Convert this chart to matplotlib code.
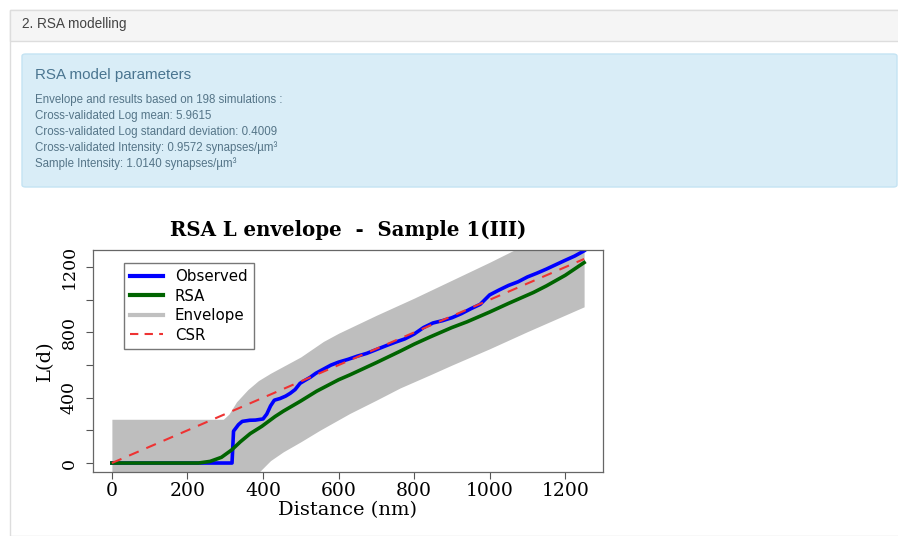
import matplotlib
matplotlib.use("Agg")
from matplotlib import pyplot as plt
from matplotlib.patches import Rectangle, FancyBboxPatch
from matplotlib.lines import Line2D
import numpy as np

# datos
d_obs = [0, 318, 322, 335, 345, 365, 380, 400, 410, 420, 430, 445, 460, 472, 485, 498, 510,
         525, 540, 560, 580, 600, 625, 650, 675, 700, 725, 750, 775, 800, 825, 850, 875, 900,
         925, 950, 975, 1000, 1025, 1050, 1075, 1100, 1125, 1150, 1175, 1200, 1225, 1250]
L_obs = [0, 0, 195, 235, 255, 262, 263, 270, 300, 350, 385, 395, 410, 427, 450, 488, 505,
         525, 550, 575, 600, 618, 635, 655, 672, 695, 718, 740, 760, 790, 830, 858, 872, 890,
         915, 945, 972, 1030, 1060, 1088, 1110, 1140, 1163, 1188, 1215, 1242, 1268, 1300]

d_rsa = [0, 229, 260, 290, 317, 340, 366, 397, 432, 454, 500, 542, 600, 630, 700, 763, 800,
         842, 900, 940, 1000, 1050, 1116, 1150, 1200, 1250]
L_rsa = [0, 0, 10, 35, 80, 130, 180, 225, 285, 318, 380, 440, 510, 540, 615, 685, 728,
         772, 830, 865, 925, 978, 1045, 1085, 1150, 1228]

d_env_sup = [0, 295, 310, 330, 360, 388, 420, 460, 500, 560, 600, 700, 800, 900, 1000, 1100, 1250]
L_env_sup = [268, 268, 300, 375, 450, 505, 550, 600, 650, 745, 795, 905, 1010, 1120, 1230, 1345, 1510]

d_env_inf = [0, 370, 392, 420, 454, 500, 550, 630, 700, 763, 842, 900, 1000, 1100, 1250]
L_env_inf = [-120, -120, -50, 15, 69, 130, 200, 304, 385, 460, 540, 600, 700, 805, 957]

d_csr = [0, 1250]
L_csr = [0, 1250]

W, H = 898, 536
fig = plt.figure(figsize=(W / 100, H / 100), dpi=100)

def fx(px):
    return px / W

def fy(py):
    return 1 - py / H

# pagina web alrededor del grafico
fig.patches.append(Rectangle((fx(10), fy(536)), fx(900) - fx(10), fy(10) - fy(536), zorder=-10,
                             transform=fig.transFigure, facecolor="white", edgecolor="#dddddd", lw=1))
fig.patches.append(Rectangle((fx(10), fy(41)), fx(900) - fx(10), fy(10) - fy(41), zorder=-9,
                             transform=fig.transFigure, facecolor="#f5f5f5", edgecolor="#dddddd", lw=1))
fig.patches.append(FancyBboxPatch((fx(22), fy(187)), fx(897) - fx(22), fy(54) - fy(187),
                                  boxstyle="round,pad=0,rounding_size=0.004", zorder=-8,
                                  transform=fig.transFigure, facecolor="#d9edf7", edgecolor="#c4e3f3", lw=1))

fig.text(fx(22), fy(24), "2. RSA modelling", fontsize=9.8, color="#444444",
         family="Liberation Sans", va="center")
fig.text(fx(35), fy(75), "RSA model parameters", fontsize=10.9, color="#4a7590",
         family="Liberation Sans", va="center")
lineas = ["Envelope and results based on 198 simulations :",
          "Cross-validated Log mean: 5.9615",
          "Cross-validated Log standard deviation: 0.4009",
          "Cross-validated Intensity: 0.9572 synapses/\u00b5m\u00b3",
          "Sample Intensity: 1.0140 synapses/\u00b5m\u00b3"]
for i, t in enumerate(lineas):
    fig.text(fx(35), fy(100 + i * 15.8), t, fontsize=8.3, color="#557588",
             family="Liberation Sans", va="center")

# el grafico
ax = fig.add_axes([fx(93), fy(472), fx(603) - fx(93), fy(250) - fy(472)])
# relleno del envelope entre las dos curvas
xs = np.union1d(d_env_sup, d_env_inf)
ax.fill_between(xs, np.interp(xs, d_env_inf, L_env_inf), np.interp(xs, d_env_sup, L_env_sup),
                color="#bebebe", lw=0)
ax.plot(d_csr, L_csr, color="#ee3333", lw=1.5, dashes=(5, 4), zorder=4)
ax.plot(d_rsa, L_rsa, color="#006400", lw=2.6, zorder=3)
ax.plot(d_obs, L_obs, color="#0000ff", lw=2.6, zorder=2)

ax.set_xlim(-50, 1300)
ax.set_ylim(-55, 1305)
ax.set_xticks(range(0, 1201, 200))
ax.set_yticks(range(0, 1201, 200))
ax.set_yticklabels(["0", "", "400", "", "800", "", "1200"], rotation=90, va="center")
for lab in ax.get_xticklabels():
    lab.set_family("DejaVu Serif")
    lab.set_fontsize(13.5)
for lab in ax.get_yticklabels():
    lab.set_family("DejaVu Serif")
    lab.set_fontsize(12.5)
ax.tick_params(direction="out", length=5, width=0.8, color="#555555", pad=2)
ax.tick_params(axis="y", pad=6)
for s in ax.spines.values():
    s.set_color("#666666")
    s.set_linewidth(0.9)
ax.set_xlabel("Distance (nm)", family="DejaVu Serif", fontsize=14, labelpad=1)
ax.set_ylabel("L(d)", family="DejaVu Serif", fontsize=14, labelpad=5)
ax.set_title("RSA L envelope  -  Sample 1(III)", family="DejaVu Serif", fontsize=14.2,
             fontweight="bold", pad=10)

manijas = [Line2D([], [], color="#0000ff", lw=3),
           Line2D([], [], color="#006400", lw=3),
           Line2D([], [], color="#c0c0c0", lw=3),
           Line2D([], [], color="#ee3333", lw=1.5, dashes=(4, 3))]
ax.legend(manijas, ["Observed", "RSA", "Envelope", "CSR"], loc="upper left",
          bbox_to_anchor=(31 / 510, 1 - 13 / 222), borderaxespad=0, fancybox=False,
          edgecolor="#555555", handlelength=2.2, labelspacing=0.3,
          prop={"family": "DejaVu Sans", "size": 10.8})

plt.savefig("out.png", dpi=100)
